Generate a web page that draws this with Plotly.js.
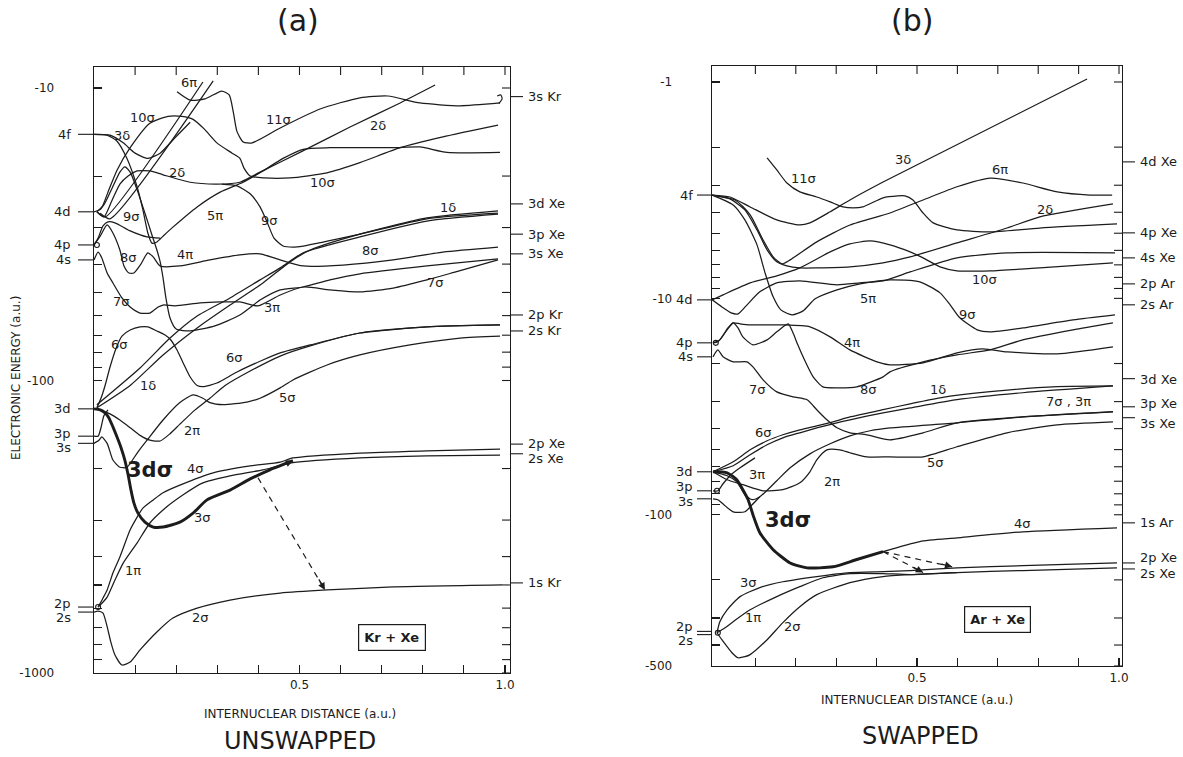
<!DOCTYPE html>
<html><head><meta charset="utf-8">
<script src="https://cdn.plot.ly/plotly-3.0.1.min.js"></script>
<style>html,body{margin:0;padding:0;background:#fff;} #chart{width:1183px;height:757px;}</style>
</head><body><div id="chart"></div>
<script>
// ===== Panel (a): Kr + Xe, UNSWAPPED. R = internuclear distance (a.u.), E = electronic energy (a.u.)
const a_11s_R = [0.202,0.234,0.270,0.311,0.329,0.339,0.348,0.363,0.385,0.453,0.550,0.647,0.715,0.793,0.891,0.988];
const a_11s_E = [-10.3,-11.0,-10.9,-10.24,-10.56,-12.1,-14.1,-15.3,-15.4,-13.7,-11.8,-10.8,-10.65,-11.25,-11.5,-11.25];
const a_11s_end_R = [0.985,0.993,0.990,0.981];
const a_11s_end_E = [-11.3,-10.9,-10.56,-10.65];
const a_6pi1_R = [0.007,0.027,0.265];
const a_6pi1_E = [-26.5,-27.6,-9.54];
const a_6pi2_R = [0.015,0.039,0.290];
const a_6pi2_E = [-26.8,-28.0,-9.46];
const a_10s_R = [0,0.017,0.034,0.056,0.088,0.136,0.180,0.214,0.241,0.268,0.299,0.336,0.355,0.365,0.380,0.414,0.477,0.567,0.647,0.745,0.849,0.983];
const a_10s_E = [-26.5,-25.9,-22.7,-19.1,-16.0,-13.2,-12.5,-12.5,-12.8,-13.8,-15.4,-16.7,-17.4,-18.8,-20.0,-20.3,-20.3,-19.5,-18.0,-16.0,-14.7,-13.4];
const a_3dl_R = [0,0.039,0.071,0.100,0.131,0.161,0.197,0.234];
const a_3dl_E = [-14.4,-14.5,-15.4,-16.7,-17.4,-16.7,-14.8,-13.1];
const a_4pi_R = [0,0.032,0.056,0.080,0.105,0.119,0.131,0.141,0.153,0.168,0.192,0.251,0.307,0.363,0.411,0.460,0.509,0.574,0.728,0.793,0.859,0.988];
const a_4pi_E = [-14.4,-14.5,-15.2,-17.4,-21.8,-26.1,-31.3,-33.9,-33.6,-32.1,-29.9,-25.5,-22.7,-21.0,-19.2,-17.4,-16.2,-16.0,-16.0,-15.9,-16.6,-16.6];
const a_5pi_R = [0,0.010,0.022,0.034,0.051,0.088,0.129,0.161];
const a_5pi_E = [-34.4,-32.6,-29.6,-28.7,-28.9,-30.8,-32.3,-32.6];
const a_2d_R = [0.007,0.024,0.044,0.063,0.083,0.105,0.136,0.168,0.234,0.299,0.355,0.404,0.501,0.623,0.745,0.830];
const a_2d_E = [-26.5,-27.6,-24.2,-21.3,-20.0,-19.2,-19.2,-19.8,-21.0,-21.3,-21.0,-19.4,-16.6,-13.6,-11.25,-9.77];
const a_9sR_R = [0.311,0.348,0.380,0.404,0.421,0.438,0.460,0.484,0.509,0.647,0.810,0.983];
const a_9sR_E = [-21.3,-21.6,-23.0,-25.5,-28.7,-32.6,-34.7,-35.0,-34.7,-31.6,-28.0,-26.8];
const a_9sL_R = [0.007,0.024,0.044,0.063,0.075,0.088,0.105,0.124,0.141,0.153,0.161,0.168,0.175,0.185,0.200,0.234,0.294,0.355,0.404,0.453,0.509,0.574,0.647,0.810,0.983];
const a_9sL_E = [-26.5,-25.1,-22.0,-19.4,-18.6,-19.4,-22.3,-26.8,-31.8,-35.8,-39.3,-44.6,-52.2,-61.1,-66.7,-67.7,-65.1,-59.7,-53.1,-49.0,-47.9,-45.3,-43.2,-40.6,-38.4];
const a_8s_R = [0,0.015,0.032,0.046,0.063,0.073,0.085,0.097,0.114,0.131,0.144,0.161,0.209,0.282,0.355,0.404,0.453,0.509,0.606,0.728,0.849,0.983];
const a_8s_E = [-34.4,-32.1,-29.4,-31.3,-35.8,-40.6,-42.9,-42.9,-40.0,-36.6,-37.8,-40.6,-40.6,-38.7,-37.2,-36.9,-38.7,-40.6,-40.3,-38.7,-36.4,-35.0];
const a_7s_R = [0,0.010,0.019,0.032,0.046,0.068,0.088,0.112,0.136,0.156,0.168,0.197,0.258,0.307,0.355,0.399,0.453,0.509,0.574,0.647,0.728,0.810,0.878,0.983];
const a_7s_E = [-38.7,-36.4,-38.1,-42.9,-46.4,-52.2,-56.1,-58.8,-58.8,-56.1,-55.2,-55.6,-54.3,-53.9,-53.9,-55.6,-51.0,-47.9,-49.0,-49.8,-48.3,-45.3,-42.6,-38.7];
const a_1d_R = [0.007,0.088,0.168,0.251,0.331,0.411,0.477,0.526,0.647,0.810,0.983];
const a_1d_E = [-124,-104,-81.8,-66.1,-55.2,-46.4,-39.3,-35.8,-31.6,-27.8,-26.3];
const a_1d2_R = [0.007,0.112,0.185,0.251,0.331,0.404,0.453,0.509,0.647,0.810,0.983];
const a_1d2_E = [-121,-90.6,-71.6,-60.2,-52.2,-45.3,-41.2,-36.6,-32.3,-28.5,-27.0];
const a_6s_R = [0.007,0.017,0.027,0.039,0.054,0.068,0.088,0.112,0.131,0.153,0.173,0.187,0.202,0.217,0.234,0.251,0.265,0.299,0.348,0.411,0.453,0.526,0.647,0.810,0.988];
const a_6s_E = [-124,-115,-104,-89.9,-77.4,-70.5,-67.2,-65.6,-65.6,-67.7,-69.9,-72.7,-78.7,-87.1,-97.3,-104,-105,-102,-93.5,-85.1,-80.5,-75.6,-68.8,-65.6,-64.6];
const a_2pi_R = [0.007,0.039,0.063,0.088,0.112,0.136,0.161,0.185,0.209,0.246,0.282,0.319,0.380,0.453,0.526,0.647,0.810,0.988];
const a_2pi_E = [-125,-130,-136.5,-145,-154,-160,-161,-152,-141,-126,-115,-104,-92.8,-82.5,-76.2,-68.8,-65.6,-64.6];
const a_5s_R = [0,0.012,0.019,0.032,0.046,0.063,0.080,0.105,0.129,0.168,0.209,0.241,0.265,0.282,0.314,0.372,0.404,0.453,0.484,0.567,0.647,0.769,0.891,0.988];
const a_5s_E = [-164,-160,-156,-164,-187,-198,-198,-177,-160,-136.5,-119,-112,-115,-119,-121,-118.5,-115,-106,-99.6,-88.5,-81.8,-75.6,-71.6,-70.5];
const a_3p_R = [0,0.010,0.017,0.024,0.034];
const a_3p_E = [-155,-155,-145,-132,-126];
const a_3ds_R = [0,0.015,0.027,0.036,0.046,0.056,0.066,0.075,0.083,0.090,0.097,0.107,0.124,0.144,0.168,0.209,0.241,0.275,0.331,0.380,0.428,0.484];
const a_3ds_E = [-125,-126,-129,-134,-144,-156,-170,-187,-210,-237,-262,-284,-305,-317,-317,-305,-284,-256,-237,-217,-202,-188];
const a_4s_R = [0.010,0.022,0.032,0.046,0.063,0.088,0.105,0.119,0.144,0.168,0.209,0.290,0.380,0.453,0.484,0.647,0.810,0.988];
const a_4s_E = [-595,-554,-520,-455,-401,-324,-293,-273,-256,-242,-228,-207,-196,-190,-184,-177,-174,-171.5];
const a_1pi_R = [0.010,0.022,0.032,0.051,0.071,0.105,0.136,0.168,0.217,0.265,0.331,0.411,0.484,0.647,0.810,0.988];
const a_1pi_E = [-595,-572,-550,-481,-421,-359,-307,-277,-246,-224,-212,-202,-191,-184,-181,-180];
const a_2s_R = [0,0.010,0.022,0.029,0.034,0.041,0.051,0.068,0.088,0.112,0.153,0.192,0.251,0.331,0.453,0.567,0.728,0.993];
const a_2s_E = [-619,-614,-624,-669,-713,-784,-868,-939,-917,-834,-724,-649,-600,-563,-533,-520,-508,-500];
const a_arrow_R = [0.399,0.562];
const a_arrow_E = [-215,-520];
const a_nodes_R = [0.007,0.010];
const a_nodes_E = [-34.4,-595];

// united-atom (left) and separated-atom (right) levels, panel (a)
const a_left_names = ['4f','4d','4p','4s','3d','3p','3s','2p','2s'];
const a_left_E = [-14.4,-26.5,-34.4,-38.7,-125,-155,-164,-595,-619];
const a_right_names = ['3s Kr','3d Xe','3p Xe','3s Xe','2p Kr','2s Kr','2p Xe','2s Xe','1s Kr'];
const a_right_E = [-10.7,-24.9,-31.6,-36.9,-59.7,-67.7,-165,-178,-492];
// curve labels, panel (a)
const a_lab_text = ['6π','10σ','3δ','11σ','2δ','2δ','10σ','9σ','5π','9σ','1δ','8σ','4π','8σ','7σ','7σ','3π','6σ','6σ','1δ','5σ','2π','4σ','3σ','1π','2σ'];
const a_lab_R = [0.231,0.117,0.068,0.448,0.202,0.691,0.555,0.092,0.294,0.428,0.861,0.083,0.221,0.672,0.068,0.830,0.433,0.063,0.343,0.131,0.472,0.238,0.246,0.263,0.095,0.258];
const a_lab_E = [-9.54,-12.57,-14.5,-12.8,-19.4,-13.4,-21.1,-27.6,-27.2,-28.3,-25.7,-38.1,-37.2,-35.8,-53.9,-46.4,-56.5,-75.6,-83.7,-104,-114,-148,-200,-293,-445,-644];

// ===== Panel (b): Ar + Xe, SWAPPED
const b_3dl_R = [-0.007,0.037,0.087,0.153,0.210,0.235,0.285,0.334,0.416,0.921];
const b_3dl_E = [-3.33,-3.40,-3.78,-4.34,-4.58,-4.48,-3.98,-3.51,-2.90,-0.969];
const b_11s_R = [0.129,0.153,0.178,0.210,0.252,0.285,0.317,0.342,0.366,0.416,0.453,0.470,0.490,0.515,0.540,0.599,0.681,0.804,0.995];
const b_11s_E = [-2.24,-2.55,-2.93,-3.22,-3.40,-3.58,-3.78,-3.82,-3.78,-3.43,-3.36,-3.36,-3.51,-4.03,-4.48,-4.83,-4.93,-4.73,-4.53];
const b_6pi_R = [-0.007,0.050,0.087,0.119,0.144,0.166,0.186,0.252,0.334,0.433,0.515,0.599,0.681,0.762,0.847,0.928,0.983];
const b_6pi_E = [-3.33,-3.51,-4.11,-5.37,-6.43,-6.93,-6.64,-5.48,-4.58,-4.03,-3.51,-3.05,-2.78,-2.93,-3.22,-3.33,-3.33];
const b_2d_R = [-0.007,0.037,0.074,0.104,0.129,0.153,0.178,0.210,0.252,0.334,0.416,0.483,0.599,0.723,0.804,0.985];
const b_2d_E = [-3.33,-3.47,-3.90,-4.83,-5.97,-6.78,-7.08,-7.23,-7.23,-7.15,-6.85,-6.43,-5.54,-4.73,-4.20,-3.66];
const b_9s_R = [-0.007,0.045,0.074,0.104,0.124,0.144,0.163,0.191,0.218,0.248,0.302,0.359,0.433,0.507,0.557,0.582,0.606,0.649,0.681,0.762,0.886,0.990];
const b_9s_E = [-3.33,-3.70,-4.34,-5.66,-7.63,-9.84,-11.30,-11.92,-11.42,-10.05,-9.14,-8.57,-8.21,-8.39,-9.43,-10.71,-12.30,-13.98,-14.28,-13.69,-12.57,-11.92];
const b_10s_R = [-0.007,0.020,0.087,0.153,0.210,0.285,0.334,0.384,0.433,0.483,0.515,0.557,0.599,0.681,0.804,0.985];
const b_10s_E = [-10.16,-9.63,-8.48,-7.87,-7.23,-6.10,-5.60,-5.43,-5.66,-6.10,-6.50,-7.15,-7.46,-7.46,-7.23,-6.85];
const b_5pi_R = [-0.007,0.017,0.040,0.057,0.077,0.111,0.153,0.210,0.302,0.359,0.416,0.483,0.599,0.723,0.990];
const b_5pi_E = [-10.16,-10.95,-11.67,-11.79,-10.83,-9.33,-8.48,-8.30,-8.66,-8.48,-8.30,-7.55,-6.50,-6.16,-6.16];
const b_4pi_R = [-0.005,0.007,0.030,0.045,0.062,0.087,0.168,0.235,0.285,0.334,0.401,0.433,0.515,0.599,0.663,0.723,0.847,0.985];
const b_4pi_E = [-16.05,-15.88,-13.98,-12.98,-13.12,-13.26,-13.26,-13.54,-15.06,-17.30,-19.65,-20.29,-19.86,-17.86,-17.12,-17.67,-18.05,-16.75];
const b_8s_R = [-0.005,0.012,0.032,0.045,0.057,0.069,0.094,0.129,0.153,0.181,0.193,0.205,0.218,0.243,0.267,0.302,0.351,0.416,0.433,0.515,0.599,0.681,0.762,0.886,0.985];
const b_8s_E = [-16.05,-15.55,-13.69,-12.98,-13.69,-15.06,-16.40,-15.55,-14.28,-13.12,-14.43,-16.40,-18.63,-23.05,-25.64,-25.90,-25.64,-23.05,-21.85,-19.65,-18.24,-17.30,-15.55,-13.98,-12.98];
const b_7s_R = [-0.005,0.007,0.020,0.045,0.079,0.094,0.119,0.153,0.193,0.228,0.252,0.277,0.302,0.334,0.376,0.433,0.515,0.599,0.762,0.985];
const b_7s_E = [-18.63,-17.30,-18.63,-19.65,-19.65,-20.72,-23.80,-27.04,-28.51,-29.43,-32.73,-36.41,-39.65,-41.81,-42.70,-45.04,-41.81,-37.60,-35.27,-33.44];
const b_6s_R = [-0.005,0.045,0.087,0.129,0.168,0.210,0.252,0.292,0.334,0.416,0.483,0.557,0.681,0.847,0.985];
const b_6s_E = [-63.3,-56.9,-50.1,-45.5,-42.7,-40.5,-38.8,-37.2,-35.3,-32.7,-30.7,-28.8,-27.0,-25.6,-25.4];
const b_1d_R = [-0.005,0.045,0.087,0.129,0.168,0.210,0.252,0.292,0.334,0.416,0.483,0.599,0.762,0.985];
const b_1d_E = [-63.3,-59.4,-52.8,-47.5,-44.1,-41.8,-39.7,-38.0,-36.4,-33.8,-32.1,-29.4,-27.3,-25.4];
const b_3pi_R = [-0.005,0.030,0.054,0.074,0.092,0.111,0.153,0.186,0.235,0.285,0.334,0.384,0.433,0.599,0.762,0.985];
const b_3pi_E = [-63.3,-66.0,-70.4,-80.8,-85.2,-82.6,-69.6,-60.7,-52.3,-47.0,-43.2,-40.9,-39.7,-37.6,-35.3,-33.4];
const b_2pi_R = [-0.005,0.030,0.069,0.119,0.168,0.210,0.235,0.252,0.277,0.309,0.334,0.376,0.433,0.515,0.599,0.723,0.847,0.985];
const b_2pi_E = [-63.3,-68.9,-72.6,-77.5,-76.6,-71.2,-63.3,-55.7,-50.1,-50.1,-51.7,-54.0,-54.0,-54.0,-48.5,-41.8,-38.4,-37.2];
const b_3ds_R = [-0.005,0.030,0.054,0.069,0.082,0.094,0.111,0.144,0.186,0.228,0.292,0.351,0.416];
const b_3ds_E = [-63.3,-64.0,-68.9,-76.6,-85.2,-100,-121,-145,-167,-176,-174,-161,-148];
const b_4s_R = [0.416,0.507,0.599,0.762,0.995];
const b_4s_E = [-148,-133,-128,-120,-115];
const b_3s_R = [-0.005,0.007,0.022,0.045,0.074,0.092,0.111];
const b_3s_E = [-84.4,-85.2,-89.9,-96.9,-96.9,-89.9,-82.6];
const b_3p_R = [-0.005,0.007,0.020,0.037,0.062,0.099];
const b_3p_E = [-77.5,-77.5,-71.9,-66.0,-60.7,-54.6];
const b_3sig_R = [0.005,0.012,0.030,0.062,0.111,0.168,0.252,0.334,0.416,0.483,0.599,0.762,0.995];
const b_3sig_E = [-351,-312,-275,-239,-217,-204,-193,-185,-183,-181,-176,-172,-167];
const b_1pi_R = [0.005,0.025,0.045,0.087,0.153,0.210,0.267,0.334,0.416,0.483,0.599,0.762,0.995];
const b_1pi_E = [-351,-333,-312,-275,-239,-215,-195.5,-187,-187,-189,-185,-181,-176];
const b_2sig_R = [0.005,0.017,0.030,0.042,0.057,0.074,0.087,0.129,0.168,0.210,0.252,0.334,0.416,0.483,0.599];
const b_2sig_E = [-351,-378,-407,-434,-458,-453,-443,-378,-315,-266,-234,-206,-193,-189,-185];
const b_arrow1_R = [0.416,0.587];
const b_arrow1_E = [-148,-174];
const b_arrow2_R = [0.416,0.515];
const b_arrow2_E = [-148,-185];
const b_nodes_R = [0.002,0.005,0.007];
const b_nodes_E = [-16.05,-77.5,-351];

const b_left_names = ['4f','4d','4p','4s','3d','3p','3s','2p','2s'];
const b_left_E = [-3.33,-10.16,-16.05,-18.63,-63.3,-77.5,-84.4,-346,-358];
const b_right_names = ['4d Xe','4p Xe','4s Xe','2p Ar','2s Ar','3d Xe','3p Xe','3s Xe','1s Ar','2p Xe','2s Xe'];
const b_right_E = [-2.34,-4.98,-6.50,-8.57,-10.71,-23.5,-31.7,-35.6,-109,-167,-178];
const b_lab_text = ['11σ','3δ','6π','2δ','5π','10σ','9σ','4π','8σ','7σ','1δ','7σ , 3π','6σ','3π','2π','5σ','4σ','3σ','1π','2σ'];
const b_lab_R = [0.218,0.465,0.705,0.817,0.379,0.668,0.624,0.339,0.379,0.106,0.552,0.874,0.121,0.104,0.290,0.545,0.762,0.082,0.094,0.191];
const b_lab_E = [-2.78,-2.29,-2.55,-3.90,-10.05,-8.21,-11.92,-16.05,-26.47,-26.47,-26.47,-30.1,-41.8,-65.3,-70.4,-57.5,-110,-206,-299,-329];

// tick values (energies, a.u.; distance, a.u.)
const a_ticks = [-10,-20,-30,-40,-50,-60,-70,-80,-90,-100,-200,-300,-400,-500,-600,-700,-800,-900,-1000];
const a_tick_labels = ['-10','','','','','','','','','-100','','','','','','','','','-1000'];
const b_ticks = [-1,-2,-3,-4,-5,-6,-7,-8,-9,-10,-20,-30,-40,-50,-60,-70,-80,-90,-100,-200,-300,-400,-500];
const b_tick_labels = ['-1','','','','','','','','','-10','','','','','','','','','-100','','','','-500'];
const r_ticks = [0.1,0.2,0.3,0.4,0.5,0.6,0.7,0.8,0.9,1.0];
const r_tick_labels = ['','','','','0.5','','','','','1.0'];

// ===== drawing
const INK = '#1c1c1c';
const FONT = 'DejaVu Sans, Liberation Sans, sans-serif';
const mag = arr => arr.map(v => -v);
const lg = v => Math.log10(Math.abs(v));   // annotation positions on log axes
const ab = v => Math.abs(v);               // shape positions on log axes (data values)

function curve(R, E, ax, w, dash, shape){
  return {x:R, y:mag(E), xaxis:ax[0], yaxis:ax[1], mode:'lines', hoverinfo:'skip', showlegend:false,
    line:{color:INK, width:w||1.25, shape:shape||'spline', smoothing:0.6, dash:dash||'solid'}};
}
function nodes(R, E, ax){
  return {x:R, y:mag(E), xaxis:ax[0], yaxis:ax[1], mode:'markers', hoverinfo:'skip', showlegend:false, cliponaxis:false,
    marker:{symbol:'circle-open', size:5, color:INK, line:{width:1.1, color:INK}}};
}
const A = ['x','y'], B = ['x2','y2'];
const traces = [
  curve(a_11s_R,a_11s_E,A), curve(a_11s_end_R,a_11s_end_E,A,1.1,null,'spline'),
  curve(a_6pi1_R,a_6pi1_E,A), curve(a_6pi2_R,a_6pi2_E,A),
  curve(a_10s_R,a_10s_E,A), curve(a_3dl_R,a_3dl_E,A), curve(a_4pi_R,a_4pi_E,A),
  curve(a_5pi_R,a_5pi_E,A), curve(a_2d_R,a_2d_E,A), curve(a_9sR_R,a_9sR_E,A),
  curve(a_9sL_R,a_9sL_E,A), curve(a_8s_R,a_8s_E,A), curve(a_7s_R,a_7s_E,A),
  curve(a_1d_R,a_1d_E,A), curve(a_1d2_R,a_1d2_E,A), curve(a_6s_R,a_6s_E,A),
  curve(a_2pi_R,a_2pi_E,A), curve(a_5s_R,a_5s_E,A), curve(a_3p_R,a_3p_E,A),
  curve(a_4s_R,a_4s_E,A), curve(a_1pi_R,a_1pi_E,A), curve(a_2s_R,a_2s_E,A),
  curve(a_3ds_R,a_3ds_E,A,2.9), curve(a_arrow_R,a_arrow_E,A,1.2,'6px,5px','linear'),
  nodes(a_nodes_R,a_nodes_E,A),
  curve(b_3dl_R,b_3dl_E,B), curve(b_11s_R,b_11s_E,B), curve(b_6pi_R,b_6pi_E,B),
  curve(b_2d_R,b_2d_E,B), curve(b_9s_R,b_9s_E,B), curve(b_10s_R,b_10s_E,B),
  curve(b_5pi_R,b_5pi_E,B), curve(b_4pi_R,b_4pi_E,B), curve(b_8s_R,b_8s_E,B),
  curve(b_7s_R,b_7s_E,B), curve(b_6s_R,b_6s_E,B), curve(b_1d_R,b_1d_E,B),
  curve(b_3pi_R,b_3pi_E,B), curve(b_2pi_R,b_2pi_E,B), curve(b_3s_R,b_3s_E,B),
  curve(b_3p_R,b_3p_E,B), curve(b_4s_R,b_4s_E,B), curve(b_3sig_R,b_3sig_E,B),
  curve(b_1pi_R,b_1pi_E,B), curve(b_2sig_R,b_2sig_E,B),
  curve(b_3ds_R,b_3ds_E,B,2.9), curve(b_arrow1_R,b_arrow1_E,B,1.2,'6px,5px','linear'),
  curve(b_arrow2_R,b_arrow2_E,B,1.2,'6px,5px','linear'),
  nodes(b_nodes_R,b_nodes_E,B)
];

const W = 1183, H = 757;
const px = X => X / W;              // page-position helpers (layout only)
const py = Y => 1 - Y / H;

function yax(domain, range, ticks, labels, anchor){
  return {type:'log', domain:domain, range:range, anchor:anchor, tickmode:'array', tickvals:mag(ticks), ticktext:labels,
    ticks:'inside', ticklen:8, tickwidth:1.1, tickcolor:INK, showline:true, linecolor:INK, linewidth:1.4,
    mirror:true, showgrid:false, zeroline:false, ticklabelstandoff:36,
    tickfont:{family:FONT, size:12, color:INK}};
}
function xax(domain, range, anchor){
  return {domain:domain, range:range, anchor:anchor, tickmode:'array', tickvals:r_ticks, ticktext:r_tick_labels,
    ticks:'inside', ticklen:8, tickwidth:1.1, tickcolor:INK, showline:true, linecolor:INK, linewidth:1.4,
    mirror:true, showgrid:false, zeroline:false, tickfont:{family:FONT, size:12, color:INK}};
}

const shapes = [], ann = [];
// ticks on the right and top frames (same tick values as the left / bottom axes)
function mirrorTicks(ticks, yref, xRight, xref, yTop){
  ticks.forEach(t => shapes.push({type:'line', xref:'paper', yref:yref, x0:px(xRight), x1:px(xRight-8),
    y0:ab(t), y1:ab(t), line:{color:INK, width:1.1}}));
  r_ticks.forEach(t => shapes.push({type:'line', xref:xref, yref:'paper', x0:t, x1:t,
    y0:py(yTop), y1:py(yTop+8), line:{color:INK, width:1.1}}));
}
mirrorTicks(a_ticks, 'y', 510, 'x', 67);
mirrorTicks(b_ticks, 'y2', 1122, 'x2', 66);

function levels(names, E, yref, xl0, xl1, xt, anchor, shifts){
  names.forEach((n,i) => {
    shapes.push({type:'line', xref:'paper', yref:yref, x0:px(xl0), x1:px(xl1), y0:ab(E[i]), y1:ab(E[i]),
      line:{color:INK, width:1.1}});
    ann.push({xref:'paper', yref:yref, x:px(xt), y:lg(E[i]), xanchor:anchor, yanchor:'middle', yshift:shifts[i]||0,
      text:n, showarrow:false, font:{family:FONT, size:13, color:INK}});
  });
}
levels(a_left_names, a_left_E, 'y', 78, 94, 73, 'right', [0,0,0,0,0,3,-4,4,-5]);
levels(a_right_names, a_right_E, 'y', 510, 523, 526, 'left', [0,0,0,0,0,0,1,-5,0]);
levels(b_left_names, b_left_E, 'y2', 697, 712, 695, 'right', [0,0,0,0,0,4,-3,5,-6]);
levels(b_right_names, b_right_E, 'y2', 1122, 1135, 1138, 'left', [0,0,0,0,0,-1,3,-6,0,5,-5]);

function labels(texts, R, E, xr, yr){
  texts.forEach((t,i) => ann.push({xref:xr, yref:yr, x:R[i], y:lg(E[i]), text:t, showarrow:false,
    font:{family:FONT, size:13, color:INK}}));
}
labels(a_lab_text, a_lab_R, a_lab_E, 'x', 'y');
labels(b_lab_text, b_lab_R, b_lab_E, 'x2', 'y2');

ann.push({xref:'x', yref:'y', x:0.136, y:lg(-202), text:'<b>3dσ</b>', showarrow:false, font:{family:FONT, size:21, color:INK}});
ann.push({xref:'x2', yref:'y2', x:0.181, y:lg(-105.4), text:'<b>3dσ</b>', showarrow:false, font:{family:FONT, size:21, color:INK}});
ann.push({xref:'x', yref:'y', x:0.725, y:lg(-754), text:'<b>Kr + Xe</b>', showarrow:false, bordercolor:INK, borderwidth:1.2, borderpad:5,
  bgcolor:'#fff', font:{family:FONT, size:13, color:INK}});
ann.push({xref:'x2', yref:'y2', x:0.700, y:lg(-305), text:'<b>Ar + Xe</b>', showarrow:false, bordercolor:INK, borderwidth:1.2, borderpad:5,
  bgcolor:'#fff', font:{family:FONT, size:13, color:INK}});
function head(xr, yr, R, E, ax, ay){
  ann.push({xref:xr, yref:yr, x:R, y:lg(E), ax:ax, ay:ay, text:'', showarrow:true, arrowhead:2, arrowsize:1.1,
    arrowwidth:1.3, arrowcolor:INK, standoff:0});
}
head('x','y', a_arrow_R[1], a_arrow_E[1], -7, -12);
head('x','y', a_3ds_R[a_3ds_R.length-1], a_3ds_E[a_3ds_E.length-1], -12, 5);
head('x2','y2', b_arrow1_R[1], b_arrow1_E[1], -12, -3);
head('x2','y2', b_arrow2_R[1], b_arrow2_E[1], -11, -6);

const T = (x,y,t,s,ang) => ann.push({xref:'paper', yref:'paper', x:px(x), y:py(y), text:t, showarrow:false,
  textangle:ang||0, xanchor:'center', yanchor:'middle', font:{family:FONT, size:s, color:INK}});
T(298,20,'(a)',30); T(912,20,'(b)',30);
T(16,378,'ELECTRONIC ENERGY (a.u.)',12,-90);
T(300,714,'INTERNUCLEAR DISTANCE (a.u.)',12); T(917,700,'INTERNUCLEAR DISTANCE (a.u.)',12);
T(300,741,'UNSWAPPED',24); T(920,736,'SWAPPED',24);

const layout = {
  width:W, height:H, margin:{l:0,r:0,t:0,b:0}, paper_bgcolor:'#fff', plot_bgcolor:'rgba(0,0,0,0)',
  showlegend:false,
  xaxis: xax([px(94), px(510)], [0, 1.0122], 'y'),
  yaxis: yax([py(673), py(67)], [3.0, 0.9282], a_ticks, a_tick_labels, 'x'),
  xaxis2: xax([px(712), px(1122)], [-0.0074, 1.0074], 'y2'),
  yaxis2: yax([py(666), py(66)], [2.699, -0.0739], b_ticks, b_tick_labels, 'x2'),
  shapes: shapes, annotations: ann
};
Plotly.newPlot('chart', traces, layout, {staticPlot:true, displayModeBar:false});
</script>
</body></html>
